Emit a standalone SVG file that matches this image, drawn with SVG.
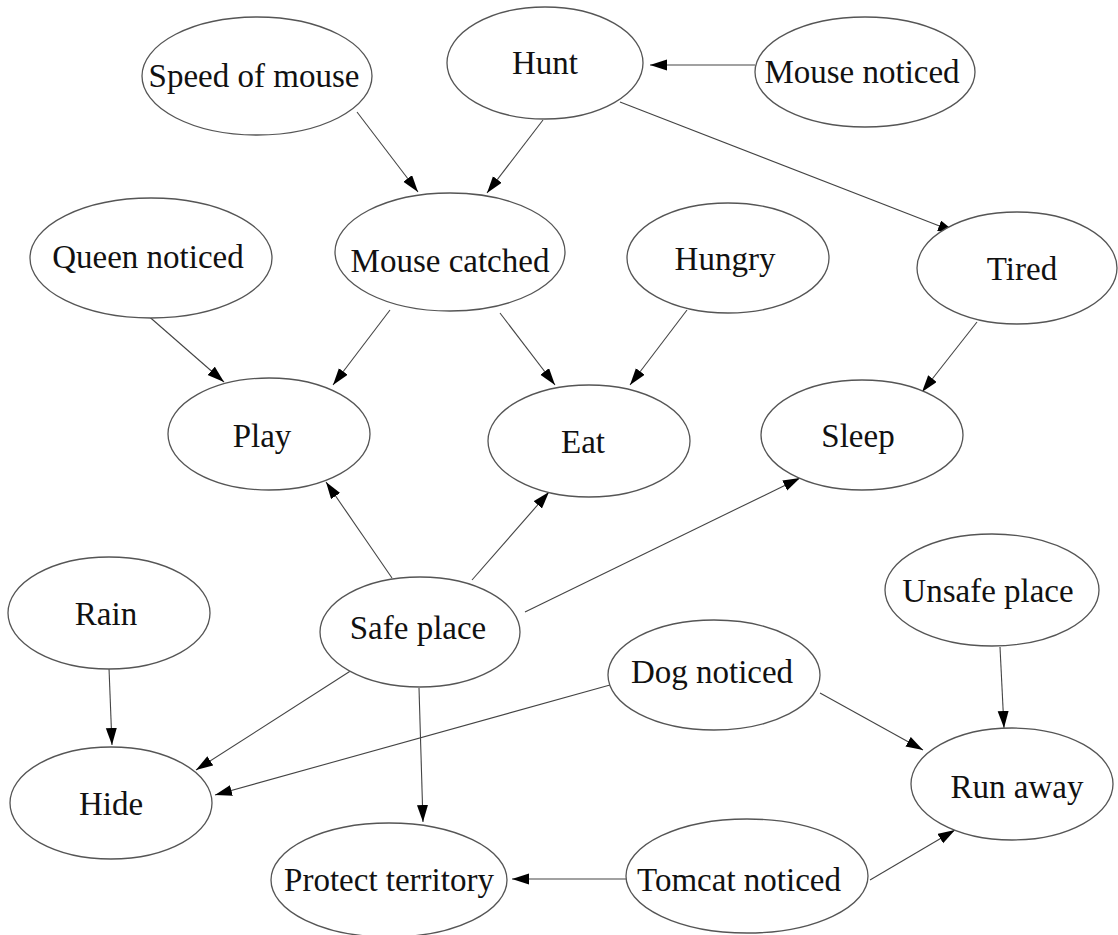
<svg xmlns="http://www.w3.org/2000/svg" width="1118" height="935" viewBox="0 0 1118 935">
<style>
.n ellipse{fill:#fff;stroke:#555;stroke-width:1.3}
.n text{font-family:"Liberation Serif","DejaVu Serif",serif;font-size:33px;fill:#111;text-anchor:middle}
.e line{stroke:#444;stroke-width:1.1;marker-end:url(#ah)}
</style>
<defs>
<marker id="ah" markerUnits="userSpaceOnUse" markerWidth="18" markerHeight="12" refX="17" refY="5.5" orient="auto"><path d="M0,0 L17,5.5 L0,11 z" fill="#000"/></marker>
</defs>
<rect width="1118" height="935" fill="#fff"/>
<g id="connectors" class="e">
<line x1="755" y1="65" x2="650" y2="65"/>
<line x1="357" y1="112" x2="418" y2="192"/>
<line x1="543" y1="120" x2="487" y2="193"/>
<line x1="620" y1="102" x2="955" y2="232"/>
<line x1="145" y1="313" x2="224" y2="382"/>
<line x1="390" y1="310" x2="333" y2="385"/>
<line x1="500" y1="313" x2="555" y2="385"/>
<line x1="687" y1="310" x2="630" y2="385"/>
<line x1="977" y1="322" x2="922" y2="392"/>
<line x1="392" y1="578" x2="326" y2="482"/>
<line x1="472" y1="580" x2="549" y2="492"/>
<line x1="525" y1="612" x2="800" y2="478"/>
<line x1="109" y1="668" x2="112" y2="745"/>
<line x1="352" y1="670" x2="196" y2="770"/>
<line x1="610" y1="685" x2="215" y2="795"/>
<line x1="419" y1="688" x2="423" y2="822"/>
<line x1="820" y1="693" x2="923" y2="750"/>
<line x1="1000" y1="647" x2="1004" y2="728"/>
<line x1="626" y1="879" x2="512" y2="879"/>
<line x1="870" y1="880" x2="955" y2="830"/>
</g>
<g id="speed" class="n"><ellipse cx="257" cy="76" rx="115" ry="59"/><text x="254" y="87">Speed of mouse</text></g>
<g id="hunt" class="n"><ellipse cx="545" cy="63" rx="98" ry="56"/><text x="545" y="74">Hunt</text></g>
<g id="mousenoticed" class="n"><ellipse cx="865" cy="72" rx="110" ry="55"/><text x="862" y="83">Mouse noticed</text></g>
<g id="queen" class="n"><ellipse cx="151" cy="258" rx="121" ry="60"/><text x="148" y="268">Queen noticed</text></g>
<g id="catched" class="n"><ellipse cx="450" cy="252" rx="115" ry="59"/><text x="450" y="272">Mouse catched</text></g>
<g id="hungry" class="n"><ellipse cx="728" cy="258" rx="101" ry="55"/><text x="725" y="270">Hungry</text></g>
<g id="tired" class="n"><ellipse cx="1017" cy="268" rx="100" ry="56"/><text x="1022" y="280">Tired</text></g>
<g id="play" class="n"><ellipse cx="269" cy="434" rx="101" ry="56"/><text x="262" y="447">Play</text></g>
<g id="eat" class="n"><ellipse cx="589" cy="441" rx="101" ry="56"/><text x="583" y="453">Eat</text></g>
<g id="sleep" class="n"><ellipse cx="862" cy="435" rx="101" ry="55"/><text x="858" y="447">Sleep</text></g>
<g id="rain" class="n"><ellipse cx="109" cy="613" rx="101" ry="56"/><text x="106" y="625">Rain</text></g>
<g id="safe" class="n"><ellipse cx="420" cy="632" rx="100" ry="55"/><text x="418" y="639">Safe place</text></g>
<g id="unsafe" class="n"><ellipse cx="992" cy="590" rx="107" ry="56"/><text x="988" y="602">Unsafe place</text></g>
<g id="dog" class="n"><ellipse cx="714" cy="675" rx="106" ry="55"/><text x="712" y="683">Dog noticed</text></g>
<g id="hide" class="n"><ellipse cx="111" cy="803" rx="101" ry="56"/><text x="111" y="815">Hide</text></g>
<g id="runaway" class="n"><ellipse cx="1012" cy="784" rx="101" ry="56"/><text x="1017" y="798">Run away</text></g>
<g id="protect" class="n"><ellipse cx="389" cy="880" rx="118" ry="57"/><text x="389" y="891">Protect territory</text></g>
<g id="tomcat" class="n"><ellipse cx="747" cy="876" rx="121" ry="57"/><text x="739" y="891">Tomcat noticed</text></g>
</svg>
